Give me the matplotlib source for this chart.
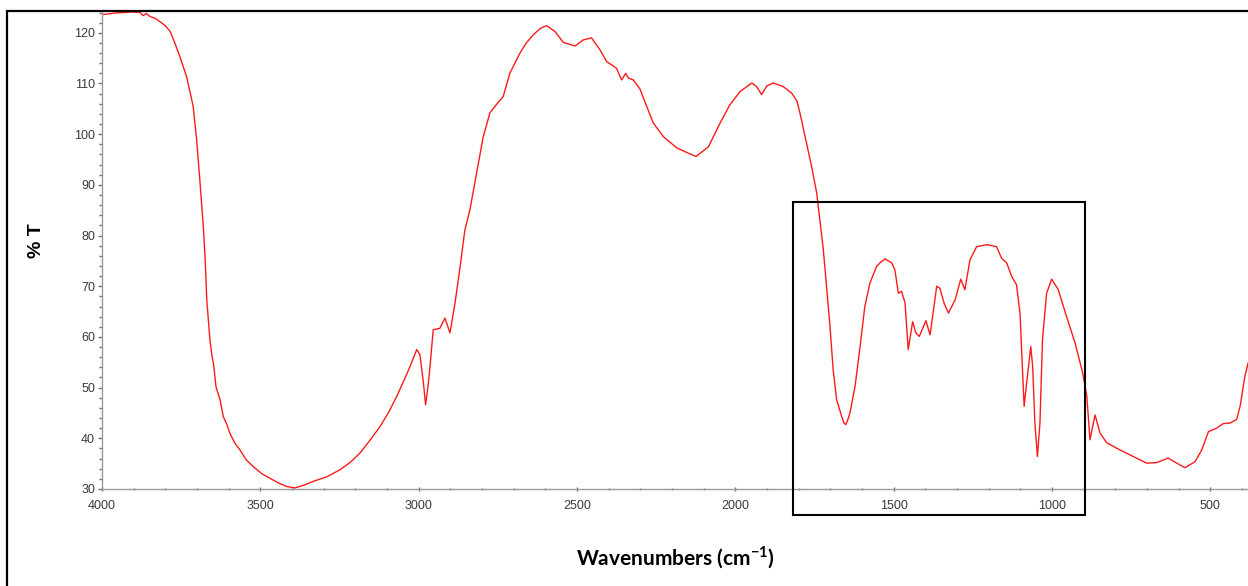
import matplotlib
matplotlib.use("Agg")
import matplotlib.pyplot as plt
from matplotlib.patches import Rectangle
from matplotlib.ticker import MultipleLocator

plt.rcParams['font.family'] = ['Liberation Sans', 'DejaVu Sans']
plt.rcParams['mathtext.fontset'] = 'custom'
plt.rcParams['mathtext.rm'] = 'Lato'
plt.rcParams['mathtext.bf'] = 'Lato:bold'

# IR spectrum (wavenumber in cm-1, transmittance in %)
wavenumber = [
    3996, 3960, 3930, 3902, 3880, 3870, 3860, 3848, 3830, 3817, 3800, 3785,
    3770, 3754, 3733, 3712, 3701, 3691, 3680, 3674, 3669, 3659, 3652, 3648,
    3640, 3634, 3627, 3617, 3606, 3596, 3580, 3564, 3545, 3522, 3495, 3469,
    3440, 3417, 3391, 3360, 3333, 3290, 3248, 3215, 3185, 3155, 3122, 3095,
    3069, 3045, 3027, 3006, 2996, 2985, 2978, 2970, 2964, 2954, 2933, 2917,
    2901, 2885, 2869, 2854, 2838, 2817, 2796, 2775, 2755, 2733, 2712, 2680,
    2660, 2638, 2615, 2596, 2570, 2543, 2506, 2480, 2454, 2427, 2406, 2375,
    2359, 2346, 2338, 2322, 2301, 2280, 2259, 2227, 2185, 2150, 2124, 2085,
    2048, 2017, 1985, 1948, 1933, 1917, 1901, 1880, 1849, 1822, 1805, 1796,
    1775, 1759, 1743, 1733, 1722, 1712, 1701, 1691, 1680, 1664, 1657, 1651,
    1645, 1638, 1622, 1606, 1591, 1575, 1554, 1540, 1527, 1506, 1496, 1485,
    1475, 1464, 1454, 1440, 1430, 1419, 1398, 1385, 1364, 1354, 1340, 1327,
    1306, 1288, 1275, 1259, 1238, 1206, 1175, 1159, 1143, 1127, 1112, 1101,
    1093, 1088, 1080, 1067, 1061, 1054, 1046, 1038, 1030, 1017, 1001, 980,
    954, 927, 903, 890, 880, 864, 848, 827, 785, 743, 701, 669,
    633, 606, 580, 548, 527, 506, 480, 459, 438, 417, 406, 391,
    381,
]
transmittance = [
    123.6, 123.9, 124.0, 124.1, 124.0, 123.4, 123.8, 123.2, 122.8, 122.2, 121.4, 120.3,
    118.0, 115.3, 111.4, 105.5, 98.9, 91.0, 81.8, 75.2, 67.3, 59.4, 56.0, 54.9,
    50.2, 49.0, 47.6, 44.3, 42.8, 41.0, 39.0, 37.7, 35.8, 34.4, 33.0, 32.1,
    31.1, 30.5, 30.2, 30.8, 31.5, 32.4, 33.8, 35.3, 37.1, 39.5, 42.3, 45.1,
    48.3, 51.6, 54.2, 57.5, 56.5, 51.0, 46.6, 50.5, 54.2, 61.4, 61.7, 63.7,
    60.8, 66.7, 73.9, 81.1, 85.1, 92.3, 99.5, 104.2, 105.8, 107.4, 112.0, 116.0,
    118.0, 119.6, 120.9, 121.4, 120.3, 118.1, 117.4, 118.6, 119.0, 116.6, 114.3, 113.0,
    110.7, 112.0, 111.1, 110.7, 108.9, 105.5, 102.2, 99.5, 97.3, 96.3, 95.6, 97.5,
    102.2, 105.8, 108.4, 110.1, 109.4, 107.8, 109.5, 110.1, 109.4, 108.1, 106.5, 104.2,
    98.2, 93.6, 88.4, 83.1, 77.2, 70.0, 62.1, 53.5, 47.6, 44.3, 43.0, 42.7,
    43.6, 45.0, 50.2, 58.1, 66.0, 70.6, 73.9, 74.8, 75.4, 74.6, 73.2, 68.6,
    69.0, 66.7, 57.5, 63.0, 60.8, 60.1, 63.2, 60.4, 70.0, 69.6, 66.5, 64.7,
    67.3, 71.4, 69.3, 75.2, 77.8, 78.2, 77.8, 75.5, 74.6, 71.9, 70.3, 64.7,
    53.5, 46.3, 50.9, 58.1, 54.2, 43.0, 36.4, 43.0, 59.4, 68.6, 71.4, 69.3,
    64.0, 58.8, 52.9, 48.3, 39.7, 44.6, 41.0, 39.1, 37.7, 36.4, 35.1, 35.2,
    36.1, 35.1, 34.2, 35.4, 37.7, 41.3, 42.0, 42.9, 43.0, 43.7, 46.3, 52.2,
    54.8,
]

y_ticks = [30, 40, 50, 60, 70, 80, 90, 100, 110, 120]
x_ticks = [4000, 3500, 3000, 2500, 2000, 1500, 1000, 500]

# highlighted fingerprint region
box_x = (1819, 896)
box_y = (24.9, 86.7)

fig = plt.figure(figsize=(12.48, 5.86), dpi=100)
ax = fig.add_axes([0.0817, 0.1647, 1 - 0.0817, 0.9795 - 0.1647])

ax.plot(wavenumber, transmittance, color='#ff1a1a', lw=1.0)

ax.set_xlim(4000, 381)
ax.set_ylim(29.9, 124.1)
ax.set_xticks(x_ticks)
ax.set_yticks(y_ticks)
ax.xaxis.set_minor_locator(MultipleLocator(100))
ax.yaxis.set_minor_locator(MultipleLocator(2))

for s in ['top', 'right']:
    ax.spines[s].set_visible(False)
for s in ['left', 'bottom']:
    ax.spines[s].set_color('#9a9a9a')
    ax.spines[s].set_linewidth(1.0)

ax.tick_params(axis='both', which='major', colors='#707070', labelcolor='#3a3a3a',
               labelsize=9, length=3, width=1)
ax.tick_params(axis='both', which='minor', colors='#707070', length=2, width=1)
ax.tick_params(axis='x', which='both', direction='inout', pad=6)
ax.tick_params(axis='y', which='both', direction='out', pad=2)

ax.add_patch(Rectangle((box_x[0], box_y[0]), box_x[1] - box_x[0], box_y[1] - box_y[0],
                       fill=False, ec='black', lw=1.5, clip_on=False, zorder=5))

# outer frame around the whole picture
fig.patches.append(Rectangle((7 / 1248, -0.2), 1.2, 1.2 - 11 / 586, fill=False,
                             ec='black', lw=1.6, transform=fig.transFigure))

fig.text(0.029, 0.59, '% T', rotation=90, ha='center', va='center',
         fontsize=14, fontweight='bold', family=['Liberation Sans'])
fig.text(0.541, 0.049, r'Wavenumbers (cm$^{\mathbf{-1}}$)', ha='center', va='center',
         fontsize=15, fontweight='bold', family=['Lato'])

fig.savefig('out.png', dpi=100)
